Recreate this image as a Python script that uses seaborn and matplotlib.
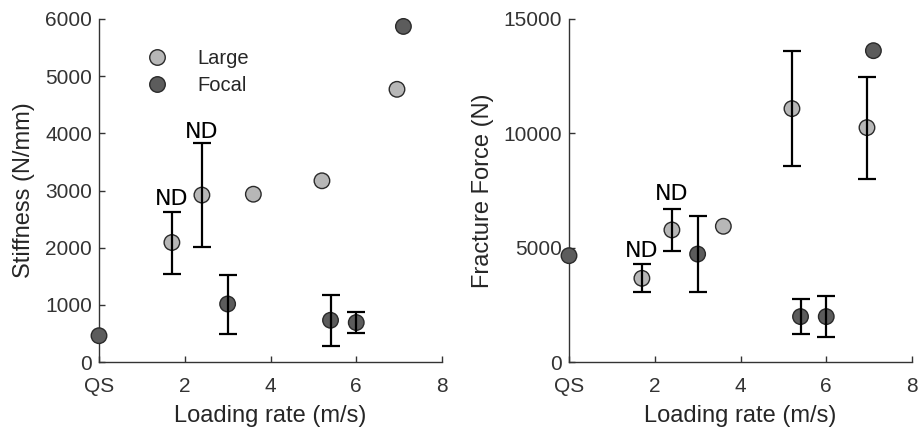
import numpy as np
import pandas as pd
import seaborn as sns
from matplotlib import pyplot as plt

sns.set_style("white")
plt.rcParams["font.family"] = ["Liberation Sans", "DejaVu Sans"]

# data, x = loading rate (QS plotted at 0)
large_x = [1.7, 2.4, 3.6, 5.2, 6.95]
focal_x = [0.0, 3.0, 5.4, 6.0, 7.1]

stiff_large = [2090, 2920, 2935, 3170, 4770]
stiff_large_lo = [1545, 2015, np.nan, np.nan, np.nan]
stiff_large_hi = [2625, 3825, np.nan, np.nan, np.nan]
stiff_focal = [460, 1015, 730, 690, 5870]
stiff_focal_lo = [np.nan, 495, 280, 500, np.nan]
stiff_focal_hi = [np.nan, 1530, 1180, 875, np.nan]

force_large = [3660, 5775, 5935, 11080, 10250]
force_large_lo = [3050, 4840, np.nan, 8590, 8020]
force_large_hi = [4270, 6705, np.nan, 13600, 12460]
force_focal = [4650, 4720, 1985, 1985, 13615]
force_focal_lo = [np.nan, 3050, 1225, 1080, np.nan]
force_focal_hi = [np.nan, 6370, 2740, 2900, np.nan]

xticks = [0, 2, 4, 6, 8]
xticklabels = ["QS", "2", "4", "6", "8"]

palette = {"Large": "#b7b7b7", "Focal": "#5c5c5c"}


def make_df(yl, yf):
    return pd.DataFrame({
        "x": large_x + focal_x,
        "y": yl + yf,
        "group": ["Large"] * len(large_x) + ["Focal"] * len(focal_x),
    })


def draw_errs(ax, x, y, lo, hi):
    y = np.array(y, dtype=float)
    lo = np.array(lo, dtype=float)
    hi = np.array(hi, dtype=float)
    m = ~np.isnan(lo)
    ax.errorbar(np.array(x)[m], y[m], yerr=[y[m] - lo[m], hi[m] - y[m]],
                fmt="none", ecolor="black", elinewidth=1.6, capsize=6.5,
                capthick=1.6, zorder=5)


fig, axes = plt.subplots(1, 2, figsize=(9.18, 4.32), dpi=100)

panels = [
    (axes[0], stiff_large, stiff_large_lo, stiff_large_hi,
     stiff_focal, stiff_focal_lo, stiff_focal_hi, 6000, 1000, "Stiffness (N/mm)",
     [(1.7, 2850), (2.4, 4030)]),
    (axes[1], force_large, force_large_lo, force_large_hi,
     force_focal, force_focal_lo, force_focal_hi, 15000, 5000, "Fracture Force (N)",
     [(1.7, 4870), (2.4, 7350)]),
]

for i, (ax, yl, yl_lo, yl_hi, yf, yf_lo, yf_hi, ymax, ystep, ylabel, nd) in enumerate(panels):
    df = make_df(yl, yf)
    sns.scatterplot(data=df, x="x", y="y", hue="group", palette=palette,
                    s=125, edgecolor="#2a2a2a", linewidth=1.0, ax=ax,
                    legend=(i == 0), zorder=3, clip_on=False)
    draw_errs(ax, large_x, yl, yl_lo, yl_hi)
    draw_errs(ax, focal_x, yf, yf_lo, yf_hi)
    for (tx, ty) in nd:
        ax.text(tx, ty, "ND", ha="center", va="center", fontsize=16,
                family="DejaVu Sans", color="black")
    ax.set_xlim(0, 8)
    ax.set_ylim(0, ymax)
    ax.set_xticks(xticks)
    ax.set_xticklabels(xticklabels)
    ax.set_yticks(np.arange(0, ymax + 1, ystep))
    ax.set_xlabel("Loading rate (m/s)", fontsize=17, color="#262626", labelpad=6)
    ax.set_ylabel(ylabel, fontsize=17, color="#262626", labelpad=7)
    ax.tick_params(axis="x", pad=11)
    ax.tick_params(axis="y", pad=5)
    ax.tick_params(direction="in", length=4, width=1, colors="#333333",
                   labelsize=15, bottom=True, left=True)
    sns.despine(ax=ax)
    for sp in ("left", "bottom"):
        ax.spines[sp].set_color("#333333")
        ax.spines[sp].set_linewidth(1.0)

leg = axes[0].legend(loc="center left", bbox_to_anchor=(0.08, 0.845), frameon=False,
                     fontsize=14.5, handletextpad=1.0, labelspacing=0.42,
                     markerscale=1.0, borderpad=0)
leg.set_title(None)

axes[0].set_position([99 / 918, 1 - 362 / 432, 343 / 918, 343 / 432])
axes[1].set_position([569 / 918, 1 - 362 / 432, 343 / 918, 343 / 432])
plt.savefig("out.png", dpi=100)
